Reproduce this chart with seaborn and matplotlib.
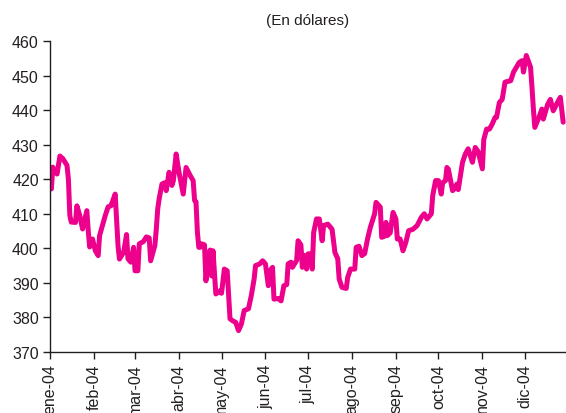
import matplotlib
matplotlib.use("Agg")
import matplotlib.pyplot as plt
import seaborn as sns
import pandas as pd

dates = [
    "2004-01-02", "2004-01-03", "2004-01-05", "2004-01-06", "2004-01-08", "2004-01-10",
    "2004-01-13", "2004-01-14", "2004-01-15", "2004-01-16", "2004-01-19", "2004-01-20",
    "2004-01-22", "2004-01-24", "2004-01-27", "2004-01-28", "2004-01-29", "2004-01-31",
    "2004-02-02", "2004-02-04", "2004-02-05", "2004-02-07", "2004-02-09", "2004-02-11",
    "2004-02-13", "2004-02-16", "2004-02-18", "2004-02-19", "2004-02-22", "2004-02-24",
    "2004-02-25", "2004-02-27", "2004-02-29", "2004-03-01", "2004-03-03", "2004-03-04",
    "2004-03-07", "2004-03-09", "2004-03-11", "2004-03-12", "2004-03-15", "2004-03-16",
    "2004-03-17", "2004-03-18", "2004-03-20", "2004-03-22", "2004-03-23", "2004-03-25",
    "2004-03-27", "2004-03-28", "2004-03-30", "2004-04-01", "2004-04-04", "2004-04-06",
    "2004-04-09", "2004-04-11", "2004-04-12", "2004-04-13", "2004-04-14", "2004-04-15",
    "2004-04-16", "2004-04-17", "2004-04-19", "2004-04-20", "2004-04-21", "2004-04-22",
    "2004-04-23", "2004-04-24", "2004-04-25", "2004-04-27", "2004-04-30", "2004-05-01",
    "2004-05-03", "2004-05-05", "2004-05-07", "2004-05-09", "2004-05-11", "2004-05-13",
    "2004-05-15", "2004-05-17", "2004-05-20", "2004-05-22", "2004-05-24", "2004-05-25",
    "2004-05-28", "2004-05-30", "2004-06-01", "2004-06-03", "2004-06-05", "2004-06-06",
    "2004-06-07", "2004-06-10", "2004-06-12", "2004-06-14", "2004-06-16", "2004-06-17",
    "2004-06-19", "2004-06-20", "2004-06-23", "2004-06-24", "2004-06-26", "2004-06-27",
    "2004-06-28", "2004-06-30", "2004-07-01", "2004-07-03", "2004-07-04", "2004-07-05",
    "2004-07-07", "2004-07-09", "2004-07-11", "2004-07-12", "2004-07-15", "2004-07-18",
    "2004-07-20", "2004-07-22", "2004-07-23", "2004-07-25", "2004-07-28", "2004-07-29",
    "2004-07-31", "2004-08-03", "2004-08-04", "2004-08-06", "2004-08-08", "2004-08-10",
    "2004-08-12", "2004-08-14", "2004-08-17", "2004-08-18", "2004-08-21", "2004-08-22",
    "2004-08-24", "2004-08-25", "2004-08-26", "2004-08-28", "2004-08-30", "2004-09-01",
    "2004-09-02", "2004-09-04", "2004-09-06", "2004-09-08", "2004-09-10", "2004-09-13",
    "2004-09-16", "2004-09-19", "2004-09-21", "2004-09-23", "2004-09-26", "2004-09-27",
    "2004-09-29", "2004-10-01", "2004-10-03", "2004-10-04", "2004-10-06", "2004-10-07",
    "2004-10-08", "2004-10-11", "2004-10-13", "2004-10-14", "2004-10-15", "2004-10-18",
    "2004-10-20", "2004-10-22", "2004-10-25", "2004-10-27", "2004-10-29", "2004-11-01",
    "2004-11-02", "2004-11-04", "2004-11-06", "2004-11-08", "2004-11-10", "2004-11-11",
    "2004-11-13", "2004-11-15", "2004-11-17", "2004-11-21", "2004-11-23", "2004-11-27",
    "2004-11-29", "2004-11-30", "2004-12-02", "2004-12-05", "2004-12-06", "2004-12-07",
    "2004-12-08", "2004-12-11", "2004-12-13", "2004-12-14", "2004-12-17", "2004-12-19",
    "2004-12-21", "2004-12-24", "2004-12-26", "2004-12-28",
]

prices = [
    417.2, 423.5, 422.0, 421.5, 426.7, 426.0,
    424.0, 420.0, 409.5, 407.6, 407.5, 412.3,
    409.5, 405.6, 410.9, 405.0, 400.4, 402.7,
    399.3, 397.9, 403.7, 406.6, 409.5, 412.0,
    412.3, 415.7, 400.8, 396.9, 398.9, 404.0,
    397.0, 396.0, 400.3, 393.5, 393.5, 401.3,
    402.0, 403.3, 403.0, 396.4, 400.8, 405.6,
    411.4, 414.3, 418.6, 419.0, 416.7, 422.0,
    418.2, 419.5, 427.3, 422.0, 415.7, 423.4,
    421.0, 419.6, 413.9, 413.5, 404.6, 400.3,
    400.3, 401.3, 401.0, 390.6, 394.0, 398.5,
    399.5, 392.0, 399.3, 386.8, 387.7, 387.0,
    394.0, 393.5, 379.6, 379.0, 378.6, 376.2,
    378.1, 382.0, 382.5, 386.3, 391.1, 395.0,
    395.5, 396.4, 395.5, 389.2, 394.0, 394.5,
    385.3, 385.5, 384.8, 389.2, 389.5, 395.5,
    396.0, 394.5, 396.5, 402.2, 401.0, 394.5,
    398.0, 394.0, 398.4, 398.4, 394.0, 404.6,
    408.5, 408.5, 402.2, 406.6, 407.0, 405.5,
    398.8, 397.0, 391.1, 388.7, 388.4, 391.6,
    394.0, 394.0, 400.3, 400.6, 397.9, 398.5,
    402.7, 406.1, 410.0, 413.3, 411.9, 403.2,
    403.5, 407.5, 403.7, 404.5, 410.4, 408.5,
    402.7, 402.7, 399.3, 401.7, 405.1, 405.5,
    406.6, 409.0, 410.0, 408.5, 410.0, 415.3,
    419.6, 419.6, 415.7, 419.0, 419.6, 423.4,
    422.9, 416.7, 417.5, 418.6, 417.0, 424.9,
    427.3, 428.8, 424.9, 429.2, 428.0, 423.0,
    431.5, 434.5, 434.5, 436.0, 437.9, 437.9,
    442.2, 443.1, 448.1, 448.5, 451.0, 453.8,
    454.3, 451.0, 455.8, 452.4, 446.6, 440.3,
    435.0, 438.0, 440.3, 437.4, 441.6, 443.1,
    439.8, 442.2, 443.7, 436.5,
]

month_labels = ["ene-04", "feb-04", "mar-04", "abr-04", "may-04", "jun-04",
                "jul-04", "ago-04", "sep-04", "oct-04", "nov-04", "dic-04"]
y_ticks = [370, 380, 390, 400, 410, 420, 430, 440, 450, 460]
title = "(En dólares)"

df = pd.DataFrame({"fecha": pd.to_datetime(dates), "precio": prices})

sns.set_style("white")
plt.rcParams["font.family"] = ["Liberation Sans", "DejaVu Sans"]

fig = plt.figure(figsize=(5.66, 4.14), dpi=100)
ax = fig.add_axes([0.0883, 0.1473, 0.9117, 0.7513])

sns.lineplot(data=df, x="fecha", y="precio", ax=ax, color="#EC008C",
             linewidth=3.6, solid_joinstyle="round", solid_capstyle="round")

ax.set_xlim(pd.Timestamp("2004-01-01"), pd.Timestamp("2004-12-30"))
ax.set_ylim(370, 460)
ax.set_yticks(y_ticks)
ax.set_yticklabels([str(v) for v in y_ticks])
ticks = pd.date_range("2004-01-01", periods=12, freq="MS")
ax.set_xticks(ticks)
ax.set_xticklabels(month_labels, rotation=90)

ax.set_xlabel("")
ax.set_ylabel("")
for s in ["top", "right"]:
    ax.spines[s].set_visible(False)
for s in ["left", "bottom"]:
    ax.spines[s].set_color("#231F20")
    ax.spines[s].set_linewidth(1.0)

ax.tick_params(axis="both", which="major", direction="out", length=5, width=1,
               color="#231F20", labelcolor="#231F20", labelsize=11.5, pad=3,
               left=True, bottom=True)
ax.set_title(title, fontsize=11, color="#231F20", pad=12)

fig.savefig("out.png", dpi=100)
